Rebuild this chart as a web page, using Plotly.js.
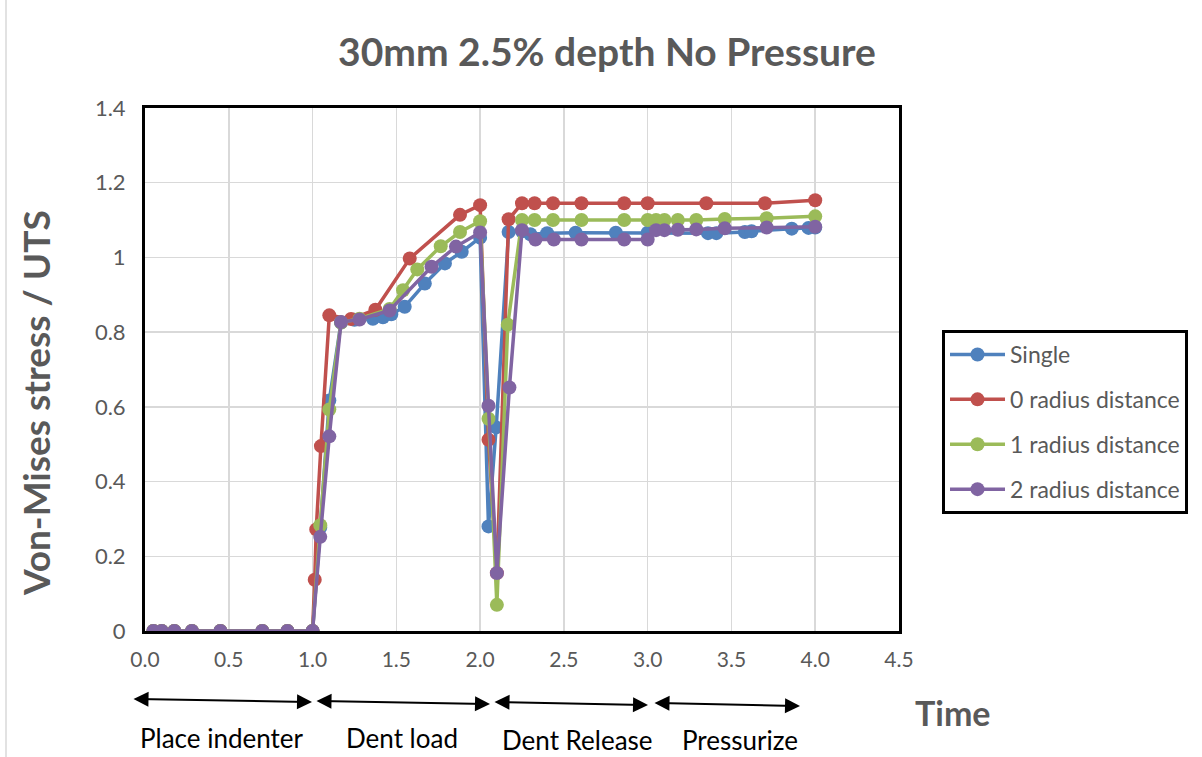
<!DOCTYPE html>
<html>
<head>
<meta charset="utf-8">
<script src="https://cdn.plot.ly/plotly-3.0.1.min.js"></script>
<style>html,body{margin:0;padding:0;background:#fff;}#chart{width:1202px;height:757px;}</style>
</head>
<body>
<div id="chart"></div>
<script>
// ---- Data ----
const seriesNames = ["Single", "0 radius distance", "1 radius distance", "2 radius distance"];
const seriesColors = ["#4F81BD", "#C0504D", "#9BBB59", "#8064A2"];

const singleX = [0.05, 0.1, 0.175, 0.28, 0.45, 0.7, 0.85, 1.0, 1.046, 1.1, 1.17, 1.25, 1.36, 1.42, 1.47, 1.55, 1.67, 1.79, 1.89, 2.0, 2.05, 2.096, 2.17, 2.25, 2.3, 2.4, 2.57, 2.81, 3.0, 3.36, 3.41, 3.58, 3.62, 3.86, 3.96, 4.0];
const singleY = [0, 0, 0, 0, 0, 0, 0, 0, 0.277, 0.617, 0.826, 0.833, 0.836, 0.84, 0.848, 0.868, 0.93, 0.984, 1.015, 1.053, 0.28, 0.545, 1.068, 1.07, 1.062, 1.065, 1.066, 1.066, 1.066, 1.065, 1.065, 1.068, 1.07, 1.077, 1.079, 1.08];

const zeroRadX = [0.05, 0.1, 0.175, 0.28, 0.45, 0.7, 0.85, 1.0, 1.013, 1.022, 1.05, 1.1, 1.23, 1.375, 1.58, 1.88, 2.0, 2.05, 2.1, 2.17, 2.25, 2.325, 2.435, 2.605, 2.86, 3.0, 3.35, 3.7, 4.0];
const zeroRadY = [0, 0, 0, 0, 0, 0, 0, 0, 0.137, 0.272, 0.495, 0.845, 0.835, 0.86, 0.997, 1.114, 1.14, 0.512, 0.155, 1.102, 1.145, 1.145, 1.145, 1.145, 1.145, 1.145, 1.145, 1.145, 1.153];

const oneRadX = [0.05, 0.1, 0.175, 0.28, 0.45, 0.7, 0.85, 1.0, 1.046, 1.1, 1.17, 1.28, 1.46, 1.54, 1.625, 1.765, 1.88, 2.0, 2.05, 2.1, 2.165, 2.25, 2.325, 2.435, 2.605, 2.86, 3.0, 3.05, 3.1, 3.18, 3.29, 3.46, 3.71, 4.0];
const oneRadY = [0, 0, 0, 0, 0, 0, 0, 0, 0.283, 0.593, 0.826, 0.836, 0.862, 0.912, 0.968, 1.03, 1.068, 1.097, 0.568, 0.07, 0.82, 1.1, 1.1, 1.1, 1.1, 1.1, 1.1, 1.1, 1.1, 1.1, 1.1, 1.103, 1.105, 1.11];

const twoRadX = [0.05, 0.1, 0.175, 0.28, 0.45, 0.7, 0.85, 1.0, 1.046, 1.1, 1.17, 1.28, 1.46, 1.71, 1.856, 2.0, 2.05, 2.1, 2.175, 2.25, 2.33, 2.44, 2.605, 2.86, 3.0, 3.05, 3.1, 3.18, 3.29, 3.46, 3.71, 4.0];
const twoRadY = [0, 0, 0, 0, 0, 0, 0, 0, 0.252, 0.521, 0.827, 0.834, 0.858, 0.975, 1.029, 1.067, 0.603, 0.155, 0.652, 1.073, 1.048, 1.048, 1.048, 1.048, 1.048, 1.073, 1.073, 1.074, 1.075, 1.078, 1.08, 1.082];

const xTickVals = [0, 0.5, 1, 1.5, 2, 2.5, 3, 3.5, 4, 4.5];
const yTickVals = [0, 0.2, 0.4, 0.6, 0.8, 1, 1.2, 1.4];
const yTickText = ["0", "0.2", "0.4", "0.6", "0.8", "1", "1.2", "1.4"];

const phaseLabels = ["Place indenter", "Dent load", "Dent Release", "Pressurize"];

// ---- Build ----
const xs = [singleX, zeroRadX, oneRadX, twoRadX];
const ys = [singleY, zeroRadY, oneRadY, twoRadY];
const traces = seriesNames.map((n, i) => ({
  type: "scatter", mode: "lines+markers", name: n,
  x: xs[i], y: ys[i], legendgroup: "g" + i,
  line: {color: seriesColors[i], width: 3.5},
  marker: {color: seriesColors[i], size: 14}
}));

const W = 1202, H = 757;
const L = 145, R = 899, T = 108, B = 631;
const px = v => (v - L) / (R - L);
const py = v => (B - v) / (B - T);
const grey = "#595959";
const font = "Lato, 'Open Sans', sans-serif";

// arrows: [x1,y1,x2,y2] in pixels
const arrows = [[132, 699, 312, 702], [315, 701, 490, 704], [493, 702, 648, 705], [653, 703, 800, 706]];
const labelPos = [[222, 738], [402, 738], [577, 740], [740, 740]];

const annotations = [];
arrows.forEach(a => {
  annotations.push({
    xref: "paper", yref: "paper", x: px(a[2]), y: py(a[3]),
    axref: "pixel", ayref: "pixel", ax: a[0] - a[2], ay: a[1] - a[3],
    showarrow: true, arrowside: "end+start", arrowhead: 2, arrowsize: 1.5,
    arrowwidth: 2, arrowcolor: "#000", text: ""
  });
});
phaseLabels.forEach((t, i) => {
  annotations.push({
    xref: "paper", yref: "paper", x: px(labelPos[i][0]), y: py(labelPos[i][1]),
    xanchor: "center", yanchor: "middle", showarrow: false, text: t,
    font: {family: font, size: 26, color: "#000"}
  });
});
annotations.push({
  xref: "paper", yref: "paper", x: px(953), y: py(712), xanchor: "center", yanchor: "middle",
  showarrow: false, text: "<b>Time</b>", font: {family: font, size: 34, color: grey}
});

const layout = {
  width: W, height: H,
  margin: {l: L, r: W - R, t: T, b: H - B, pad: 0},
  paper_bgcolor: "#fff", plot_bgcolor: "#fff",
  title: {text: "<b>30mm 2.5% depth No Pressure</b>", x: 0.505, xanchor: "center",
          y: 1 - 52 / H, yanchor: "middle", yref: "container",
          font: {family: font, size: 39, color: grey}},
  xaxis: {range: [0, 4.5], tickvals: xTickVals, tickformat: ".1f",
          showgrid: true, gridcolor: "#D9D9D9", gridwidth: 1.5, zeroline: false,
          showline: true, mirror: true, linecolor: "#000", linewidth: 3,
          ticks: "outside", ticklen: 8, tickcolor: "rgba(0,0,0,0)",
          tickfont: {family: font, size: 21, color: grey}},
  yaxis: {range: [0, 1.4], tickvals: yTickVals, ticktext: yTickText,
          showgrid: true, gridcolor: "#D9D9D9", gridwidth: 1.5, zeroline: false,
          showline: true, mirror: true, linecolor: "#000", linewidth: 3,
          ticks: "outside", ticklen: 12, tickcolor: "rgba(0,0,0,0)",
          tickfont: {family: font, size: 22, color: grey},
          title: {text: "<b>Von-Mises stress / UTS</b>" + "&nbsp;".repeat(7), standoff: 33,
                  font: {family: font, size: 37, color: grey}}},
  showlegend: true,
  legend: {x: px(942), y: py(330), xanchor: "left", yanchor: "top",
           bordercolor: "#000", borderwidth: 3, bgcolor: "#fff",
           font: {family: font, size: 23, color: grey},
           tracegroupgap: 12, itemwidth: 55},
  annotations: annotations,
  shapes: [{type: "line", xref: "paper", yref: "paper", x0: px(6), x1: px(6), y0: py(0), y1: py(757),
            line: {color: "#D9D9D9", width: 1.5}}]
};

Plotly.newPlot("chart", traces, layout, {displayModeBar: false, staticPlot: true});
</script>
</body>
</html>
